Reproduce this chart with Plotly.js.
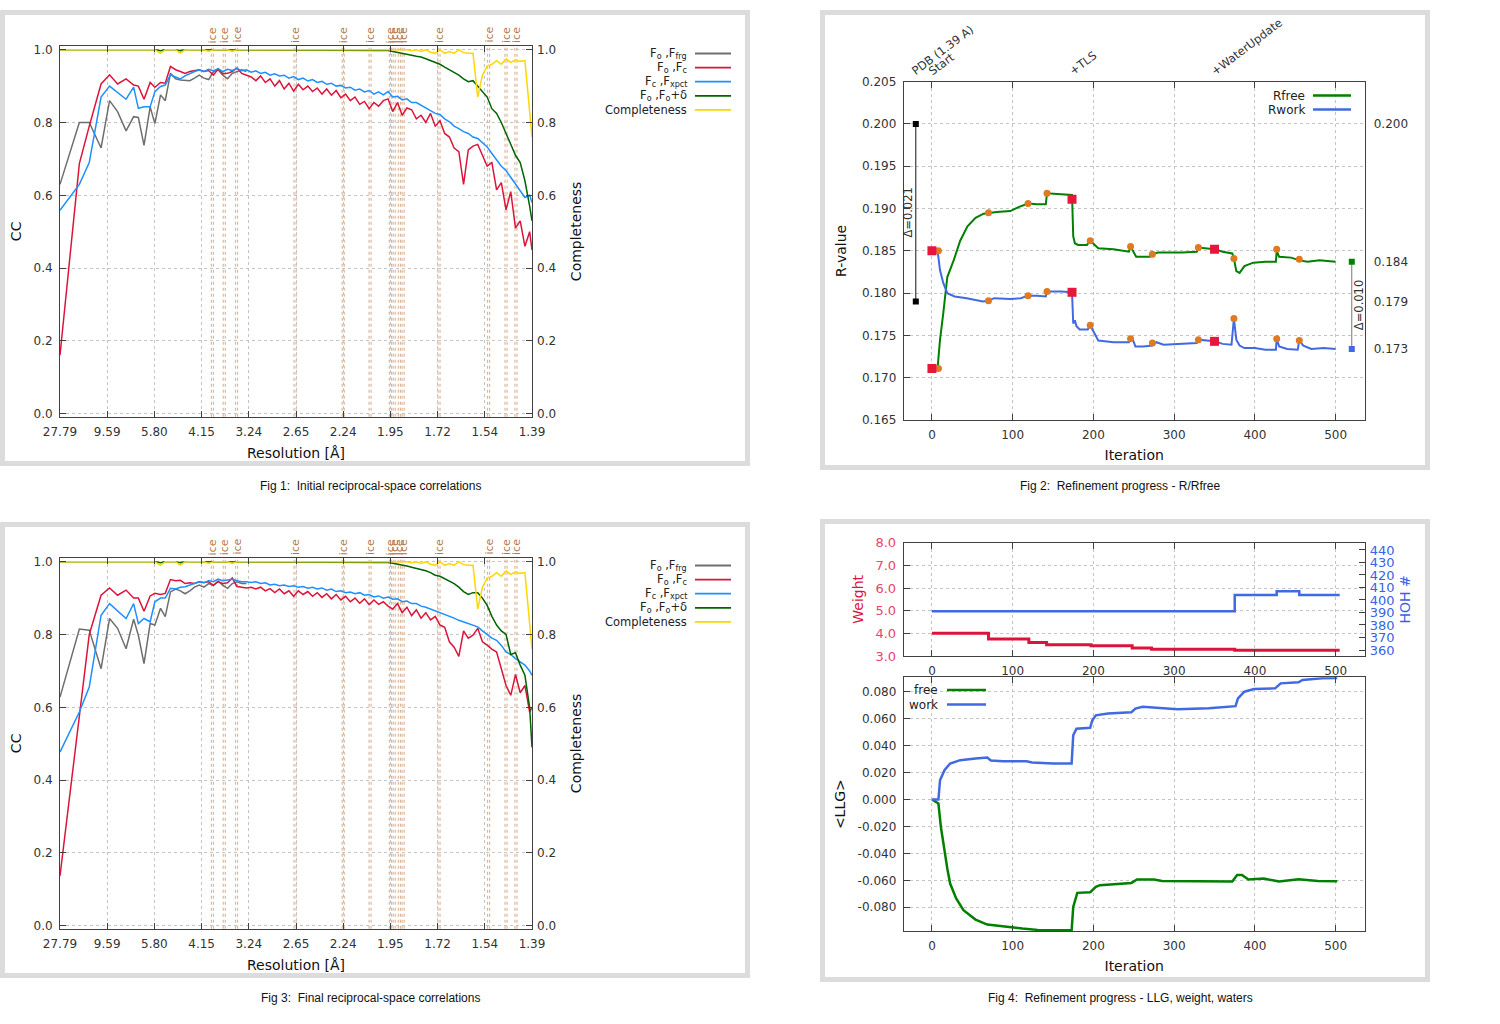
<!DOCTYPE html>
<html><head><meta charset="utf-8">
<script src="https://cdn.plot.ly/plotly-3.0.1.min.js"></script>
<style>html,body{margin:0;padding:0;background:#fff}#chart{width:1500px;height:1024px}</style>
</head><body><div id="chart"></div>
<script>
// ---------- Fig 1 / Fig 3 : reciprocal-space correlations ----------
const resTickVals = [0,1,2,3,4,5,6,7,8,9,10];
const resTickText = ['27.79','9.59','5.80','4.15','3.24','2.65','2.24','1.95','1.72','1.54','1.39'];
const ccTickVals = [0,0.2,0.4,0.6,0.8,1.0];
const ccTickText = ['0.0','0.2','0.4','0.6','0.8','1.0'];
const iceRings = [3.23,3.48,3.74,4.98,6.0,6.57,7.0,7.08,7.19,7.27,8.03,9.08,9.45,9.66];
const resX = [0,0.41,0.62,0.87,1.05,1.22,1.40,1.56,1.66,1.78,
1.91,2.01,2.13,2.23,2.34,2.45,2.55,2.65,2.75,2.85,
2.95,3.05,3.15,3.25,3.35,3.45,3.55,3.65,3.75,3.85,
3.95,4.05,4.15,4.25,4.35,4.45,4.55,4.65,4.75,4.85,
4.95,5.05,5.15,5.25,5.35,5.45,5.55,5.65,5.75,5.85,
5.95,6.05,6.15,6.25,6.35,6.45,6.55,6.65,6.75,6.85,
6.95,7.05,7.15,7.25,7.35,7.45,7.55,7.65,7.75,7.85,
7.95,8.05,8.15,8.25,8.35,8.45,8.55,8.65,8.75,8.85,
8.95,9.05,9.15,9.25,9.35,9.45,9.55,9.65,9.75,9.85,
9.95,10.0];
const ccLegend = ['F<sub>o</sub> ,F<sub>frg</sub>','F<sub>o</sub> ,F<sub>c</sub>','F<sub>c</sub> ,F<sub>xpct</sub>','F<sub>o</sub> ,F<sub>o</sub>+δ','Completeness'];

const initFoFfrg = [0.63,0.80,0.80,0.73,0.86,0.83,0.777,0.816,0.814,0.737,
0.843,0.797,0.876,0.86,0.935,0.92,0.917,0.915,0.915,0.922,
0.93,0.922,0.918,0.94,0.945,0.93,0.92,0.935,0.94,0.945,0.94];
const initFoFc = [0.161,0.687,0.79,0.906,0.931,0.906,0.92,0.903,0.90,0.864,
0.91,0.897,0.91,0.908,0.954,0.945,0.94,0.935,0.94,0.942,
0.945,0.94,0.943,0.93,0.947,0.934,0.935,0.94,0.95,0.935,
0.93,0.925,0.915,0.928,0.91,0.92,0.90,0.915,0.892,0.908,
0.886,0.905,0.89,0.90,0.885,0.895,0.878,0.892,0.875,0.888,
0.868,0.878,0.86,0.87,0.85,0.858,0.838,0.855,0.845,0.86,
0.865,0.83,0.855,0.82,0.84,0.835,0.81,0.82,0.80,0.825,
0.79,0.805,0.77,0.76,0.73,0.72,0.63,0.725,0.735,0.74,
0.71,0.68,0.69,0.615,0.635,0.56,0.61,0.51,0.53,0.46,
0.50,0.45];
const initFcFxpct = [0.559,0.63,0.69,0.87,0.90,0.882,0.864,0.897,0.839,0.843,
0.843,0.885,0.899,0.903,0.931,0.925,0.92,0.928,0.935,0.94,
0.944,0.94,0.946,0.942,0.948,0.94,0.946,0.943,0.948,0.942,
0.945,0.938,0.942,0.935,0.938,0.93,0.934,0.928,0.93,0.922,
0.926,0.918,0.922,0.914,0.918,0.91,0.913,0.905,0.908,0.90,
0.902,0.895,0.897,0.889,0.892,0.884,0.888,0.878,0.884,0.876,
0.885,0.87,0.872,0.862,0.865,0.855,0.855,0.848,0.84,0.834,
0.825,0.822,0.81,0.802,0.79,0.783,0.775,0.77,0.76,0.756,
0.745,0.733,0.715,0.696,0.68,0.668,0.65,0.631,0.615,0.594,
0.60,0.58];
const initFoFoDelta = [1,1,1,1,1,1,1,1,1,1,
1,1,0.997,1,1,1,0.997,1,1,1,
1,1,0.998,1,1,1,1,1,1,1,
1,1,1,1,1,1,1,1,1,1,
1,1,1,1,1,1,1,1,1,1,
1,1,1,1,0.999,1,0.999,1,0.999,0.999,
0.998,0.995,0.993,0.99,0.988,0.985,0.982,0.98,0.975,0.97,
0.965,0.96,0.952,0.945,0.937,0.93,0.92,0.912,0.915,0.90,
0.885,0.87,0.838,0.825,0.80,0.77,0.745,0.71,0.69,0.64,
0.57,0.53];
const completeness = [1,1,1,1,1,1,1,1,1,1,
1,1,0.99,1,1,1,0.99,1,1,1,
1,1,0.995,1,1,1,1,0.995,1,1,
1,1,1,1,1,1,1,1,1,1,
1,1,1,1,1,1,1,1,1,1,
1,1,1,1,1,1,1,1,1,1,
1,1,1,0.998,1,0.997,1,0.995,1,0.993,
0.99,1,0.99,0.995,0.99,1,0.992,0.99,0.99,0.87,
0.93,0.955,0.96,0.97,0.96,0.975,0.965,0.972,0.968,0.97,
0.84,0.76];

const finalFoFfrg = [0.628,0.815,0.812,0.706,0.844,0.817,0.761,0.842,0.798,0.72,
0.83,0.826,0.872,0.849,0.917,0.925,0.92,0.912,0.92,0.93,
0.936,0.93,0.94,0.935,0.947,0.935,0.927,0.94,0.945,0.94,0.94];
const finalFoFc = [0.137,0.587,0.80,0.908,0.928,0.908,0.922,0.90,0.90,0.864,
0.906,0.913,0.91,0.913,0.951,0.948,0.949,0.94,0.942,0.94,
0.945,0.943,0.945,0.935,0.945,0.94,0.942,0.955,0.932,0.93,
0.928,0.93,0.925,0.93,0.92,0.926,0.915,0.925,0.912,0.92,
0.905,0.92,0.91,0.918,0.905,0.915,0.902,0.912,0.898,0.91,
0.895,0.905,0.89,0.90,0.886,0.898,0.882,0.895,0.883,0.89,
0.878,0.87,0.885,0.86,0.875,0.852,0.868,0.845,0.86,0.84,
0.85,0.826,0.82,0.78,0.765,0.74,0.81,0.79,0.798,0.817,
0.78,0.771,0.76,0.752,0.706,0.66,0.633,0.69,0.64,0.66,
0.587,0.60];
const finalFcFxpct = [0.477,0.587,0.656,0.853,0.885,0.864,0.844,0.885,0.83,0.844,
0.835,0.89,0.90,0.90,0.927,0.925,0.93,0.931,0.935,0.94,
0.945,0.942,0.948,0.945,0.952,0.948,0.95,0.952,0.948,0.945,
0.945,0.943,0.945,0.94,0.942,0.936,0.938,0.934,0.936,0.932,
0.934,0.93,0.932,0.927,0.93,0.925,0.928,0.922,0.925,0.918,
0.92,0.915,0.917,0.912,0.915,0.908,0.91,0.903,0.906,0.90,
0.903,0.897,0.898,0.89,0.892,0.885,0.885,0.878,0.875,0.87,
0.866,0.862,0.855,0.85,0.845,0.839,0.835,0.83,0.825,0.821,
0.81,0.80,0.79,0.784,0.77,0.752,0.745,0.734,0.725,0.716,
0.70,0.688];
const finalFoFoDelta = [1,1,1,1,1,1,1,1,1,1,
1,1,0.997,1,1,1,0.997,1,1,1,
1,1,0.998,1,1,1,1,1,1,1,
1,1,1,1,1,1,1,1,1,1,
1,1,1,1,1,1,1,1,1,1,
1,1,1,1,0.999,1,0.999,1,0.999,0.999,
0.998,0.996,0.994,0.99,0.988,0.985,0.982,0.978,0.975,0.97,
0.963,0.96,0.953,0.945,0.94,0.93,0.918,0.91,0.915,0.915,
0.90,0.88,0.85,0.826,0.81,0.80,0.745,0.75,0.716,0.688,
0.60,0.49];

// ---------- Fig 2 : R / Rfree ----------
const iterTicks = [0,100,200,300,400,500];
const rTicks = [0.165,0.170,0.175,0.180,0.185,0.190,0.195,0.200,0.205];
const rfreeX = [7,10,14,19,27,35,44,54,64,70,80,97,108,119,130,141,142.5,160,173.5,175,177,181,192,196,200,206,225,244,246,248,253,270,273,280,310,328,330,350,360,372,374,377,381,387,398,413,426,427,430,445,454,465,480,500];
const rfreeY = [0.1712,0.1745,0.1776,0.1819,0.1839,0.1862,0.1879,0.1889,0.1894,0.1895,0.1896,0.1897,0.1902,0.1906,0.1905,0.1905,0.1918,0.1917,0.1916,0.1867,0.1859,0.1857,0.1857,0.1862,0.1858,0.1853,0.1852,0.1849,0.1855,0.1852,0.1843,0.1843,0.1846,0.1848,0.1848,0.1849,0.1854,0.1852,0.1849,0.1847,0.1841,0.1826,0.1824,0.1832,0.1836,0.1837,0.1837,0.1850,0.1843,0.1842,0.1839,0.1837,0.1839,0.1837];
const rworkX = [7,10,14,19,28,43,63,70,77,97,110,119,130,141,142.5,160,173.5,175,177,179,183,193,196,199,206,225,244,246,248,252,262,273,278,287,310,328,330,350,360,371,374,377,381,387,400,413,426,427,430,440,453,455,460,470,485,500];
const rworkY = [0.1850,0.1827,0.1812,0.1800,0.1796,0.1794,0.1790,0.1791,0.1794,0.1793,0.1794,0.1797,0.1797,0.1796,0.1802,0.1802,0.1801,0.1764,0.1768,0.1761,0.1757,0.1757,0.1762,0.1756,0.1744,0.1742,0.1742,0.1746,0.1747,0.1737,0.1737,0.1738,0.1742,0.1739,0.1740,0.1741,0.1745,0.1743,0.1740,0.1739,0.1770,0.1745,0.1738,0.1735,0.1735,0.1733,0.1733,0.1746,0.1737,0.1734,0.1733,0.1744,0.1738,0.1734,0.1735,0.1734];
const stepX = [8,70,119,142.5,196,246,273,330,374,427,455];
const stepRfree = [0.1711,0.1895,0.1906,0.1918,0.1862,0.1855,0.1846,0.1854,0.1841,0.1852,0.1840];
const stepRwork = [0.1850,0.1791,0.1797,0.1802,0.1762,0.1746,0.1741,0.1745,0.1770,0.1746,0.1744];
const stageX = [0,173.5,350];
const stageRfree = [0.1711,0.1911,0.1852];
const stageRwork = [0.1850,0.1801,0.1743];
const stageLabels = ['PDB (1.39 A)','Start','+TLS','+WaterUpdate'];
const stageLabelX = [-20,0,175,350];
const pdbX = -20, pdbRfree = 0.200, pdbRwork = 0.179;
const finalX = 520, finalRfree = 0.1837, finalRwork = 0.1734;

// ---------- Fig 4 : LLG, weight, waters ----------
const weightX = [0,70,120,142,197,248,272,375,505];
const weightY = [4.0,3.75,3.6,3.5,3.45,3.35,3.3,3.25,3.25];
const weightTicks = [3,4,5,6,7,8];
const hohX = [0,375,427,455,505];
const hohY = [391,404,407,404,404];
const hohTicks = [360,370,380,390,400,410,420,430,440];
const llgWorkX = [0,8,10,15.5,22.5,35,54,68.5,73,88,117,124,150,173,175,179,196,198.6,203,218,247,252,261,295,304,343,376,379,387,399,425,432,454,459,483,502];
const llgWork = [0,0,0.0143,0.0217,0.0267,0.0292,0.0304,0.0312,0.029,0.0284,0.0284,0.0274,0.0267,0.0267,0.0477,0.0526,0.0533,0.0588,0.0625,0.0638,0.0648,0.0675,0.0688,0.0678,0.067,0.0678,0.0693,0.075,0.080,0.082,0.0825,0.0862,0.087,0.0887,0.090,0.0902];
const llgFreeX = [0,8,11,15.5,19,22.5,30,39,54,68.5,93,112,131,173,175,180,196,203,208,237,247,254,275,285,324,372,378,384,392,411,430,454,478,502];
const llgFree = [0,-0.003,-0.0201,-0.0389,-0.0512,-0.0624,-0.0735,-0.0822,-0.0891,-0.0928,-0.0946,-0.0958,-0.0968,-0.0971,-0.0797,-0.0693,-0.0688,-0.0648,-0.0636,-0.0624,-0.0619,-0.0594,-0.0594,-0.0604,-0.0604,-0.0609,-0.056,-0.056,-0.0594,-0.0587,-0.0609,-0.0592,-0.0604,-0.0607];
const llgTickVals = [-0.08,-0.06,-0.04,-0.02,0,0.02,0.04,0.06,0.08];
const llgTickText = ['-0.080','-0.060','-0.040','-0.020','0.000','0.020','0.040','0.060','0.080'];

const captions = ['Fig 1:\u00a0\u00a0Initial reciprocal-space correlations','Fig 2:\u00a0\u00a0Refinement progress - R/Rfree','Fig 3:\u00a0\u00a0Final reciprocal-space correlations','Fig 4:\u00a0\u00a0Refinement progress - LLG, weight, waters'];

// ---------- styling ----------
const W = 1500, H = 1024;
const px = v => v / W, py = v => 1 - v / H;
const F = 'DejaVu Sans, Verdana, sans-serif';
const CAP = 'Liberation Sans Narrow, Liberation Sans, Arial, sans-serif';
const C = {gray:'#6e6e6e', red:'#dc143c', lblue:'#1e90ff', dgreen:'#006400', gold:'#ffd700',
  green:'#008000', blue:'#4169e1', orange:'#e07a22', sq:'#e8163c'};
const titleFont = {family:F, size:14, color:'#111'};
function ax(extra) {
  return Object.assign({showline:true, linecolor:'#404040', linewidth:1, ticks:'inside', ticklen:6,
    tickwidth:1, tickcolor:'#404040', tickfont:{family:F, size:12, color:'#333'}, zeroline:false,
    fixedrange:true, showgrid:true, gridcolor:'#c4c4c4', griddash:'dot', gridwidth:1,
    ticklabelstandoff:4}, extra);
}

const traces = [];
const shapes = [];
const annotations = [];

function ccPanel(xa, ya, ya2, ser, legendTop) {
  const cols = [C.gray, C.red, C.lblue, C.dgreen, C.gold];
  ser.forEach((s, i) => {
    traces.push({type:'scatter', mode:'lines', x:resX.slice(0, s.length), y:s, xaxis:xa,
      yaxis: i === 4 ? ya2 : ya, line:{color:cols[i], width:1.5}, hoverinfo:'skip', name:ccLegend[i]});
  });
  const yd = ya + ' domain';
  iceRings.forEach(r => {
    [-0.022, 0.022].forEach(o => shapes.push({type:'line', xref:xa, yref:yd, x0:r + o, x1:r + o, y0:0, y1:1,
      line:{color:'#dcb89a', width:1.2, dash:'dot'}, layer:'below'}));
    annotations.push({xref:xa, yref:yd, x:r, y:1, text:'ice', showarrow:false, textangle:-90,
      xanchor:'center', yanchor:'bottom', yshift:1, font:{family:F, size:11, color:'#b5784a'}});
  });
  ccLegend.forEach((t, i) => {
    const yy = legendTop + 14.1 * i;
    annotations.push({xref:'paper', yref:'paper', x:px(689), y:py(yy), text:t, showarrow:false,
      xanchor:'right', yanchor:'middle', font:{family:F, size:11.5, color:'#222'}});
    shapes.push({type:'line', xref:'paper', yref:'paper', x0:px(695), x1:px(731), y0:py(yy), y1:py(yy),
      line:{color:cols[i], width:1.8}});
  });
}
ccPanel('x', 'y', 'y2', [initFoFfrg, initFoFc, initFcFxpct, initFoFoDelta, completeness], 53.5);
ccPanel('x3', 'y5', 'y6', [finalFoFfrg, finalFoFc, finalFcFxpct, finalFoFoDelta, completeness], 565.5);

// Fig 2 traces
traces.push({type:'scatter', mode:'lines', x:rfreeX, y:rfreeY, xaxis:'x2', yaxis:'y3', line:{color:C.green, width:2}, name:'Rfree', hoverinfo:'skip'});
traces.push({type:'scatter', mode:'lines', x:rworkX, y:rworkY, xaxis:'x2', yaxis:'y3', line:{color:C.blue, width:2}, name:'Rwork', hoverinfo:'skip'});
traces.push({type:'scatter', mode:'markers', x:stepX, y:stepRfree, xaxis:'x2', yaxis:'y3', marker:{color:C.orange, size:7}, hoverinfo:'skip'});
traces.push({type:'scatter', mode:'markers', x:stepX, y:stepRwork, xaxis:'x2', yaxis:'y3', marker:{color:C.orange, size:7}, hoverinfo:'skip'});
traces.push({type:'scatter', mode:'markers', x:stageX.concat(stageX), y:stageRfree.concat(stageRwork), xaxis:'x2', yaxis:'y3', marker:{color:C.sq, size:9, symbol:'square'}, hoverinfo:'skip'});
traces.push({type:'scatter', mode:'lines+markers', x:[pdbX, pdbX], y:[pdbRfree, pdbRwork], xaxis:'x2', yaxis:'y3', line:{color:'#111', width:1}, marker:{color:'#000', size:6, symbol:'square'}, hoverinfo:'skip'});
// final values drawn on the overlaying right axis (same range) so that axis is rendered
traces.push({type:'scatter', mode:'lines+markers', x:[finalX, finalX], y:[finalRfree, finalRwork], xaxis:'x2', yaxis:'y4', line:{color:'#777', width:1}, marker:{color:[C.green, C.blue], size:6, symbol:'square'}, hoverinfo:'skip'});
stageLabels.forEach((t, i) => annotations.push({xref:'x2', yref:'y3 domain', x:stageLabelX[i], y:1, text:t, showarrow:false,
  textangle:-37, xanchor:'left', yanchor:'bottom', xshift:-9, yshift:1, font:{family:F, size:11.5, color:'#333'}}));
annotations.push({xref:'x2', yref:'y3', x:pdbX, y:(pdbRfree + pdbRwork) / 2, text:'Δ=' + (pdbRfree - pdbRwork).toFixed(3),
  showarrow:false, textangle:-90, xshift:-8, font:{family:F, size:11.5, color:'#333'}});
annotations.push({xref:'x2', yref:'y3', x:finalX, y:(finalRfree + finalRwork) / 2, text:'Δ=' + (finalRfree - finalRwork).toFixed(3),
  showarrow:false, textangle:-90, xshift:8, font:{family:F, size:11.5, color:'#333'}});
[['Rfree', C.green, 95.5], ['Rwork', C.blue, 109.5]].forEach(([t, c, yy]) => {
  annotations.push({xref:'paper', yref:'paper', x:px(1307), y:py(yy), text:t, showarrow:false, xanchor:'right', yanchor:'middle', font:{family:F, size:12, color:'#222'}});
  shapes.push({type:'line', xref:'paper', yref:'paper', x0:px(1313), x1:px(1351), y0:py(yy), y1:py(yy), line:{color:c, width:2.5}});
});

// Fig 4 traces
traces.push({type:'scatter', mode:'lines', x:weightX, y:weightY, xaxis:'x4', yaxis:'y7', line:{color:C.red, width:3, shape:'hv'}, name:'Weight', hoverinfo:'skip'});
traces.push({type:'scatter', mode:'lines', x:hohX, y:hohY, xaxis:'x4', yaxis:'y8', line:{color:C.blue, width:2.5, shape:'hv'}, name:'HOH #', hoverinfo:'skip'});
traces.push({type:'scatter', mode:'lines', x:llgFreeX, y:llgFree, xaxis:'x5', yaxis:'y9', line:{color:C.green, width:2.5}, name:'free', hoverinfo:'skip'});
traces.push({type:'scatter', mode:'lines', x:llgWorkX, y:llgWork, xaxis:'x5', yaxis:'y9', line:{color:C.blue, width:2.5}, name:'work', hoverinfo:'skip'});
[['free', C.green, 690], ['work', C.blue, 704.5]].forEach(([t, c, yy]) => {
  annotations.push({xref:'paper', yref:'paper', x:px(940), y:py(yy), text:t, showarrow:false, xanchor:'right', yanchor:'middle', font:{family:F, size:12, color:'#222'}});
  shapes.push({type:'line', xref:'paper', yref:'paper', x0:px(947), x1:px(986), y0:py(yy), y1:py(yy), line:{color:c, width:2.5}});
});

// panel frames
[[0,10,750,466],[820,10,1430,470],[0,522,750,978],[820,519,1430,982]].forEach(([a,b,c,d]) =>
  shapes.push({type:'rect', xref:'paper', yref:'paper', x0:px(a + 2.5), x1:px(c - 2.5), y0:py(d - 2.5), y1:py(b + 2.5),
    line:{color:'#dcdcdc', width:5}, fillcolor:'rgba(0,0,0,0)', layer:'below'}));
// captions
[[370,486],[1120,486],[370,998],[1120,998]].forEach(([x, y], i) =>
  annotations.push({xref:'paper', yref:'paper', x:px(x), y:py(y), text:captions[i], showarrow:false,
    xanchor:'center', yanchor:'middle', font:{family:CAP, size:12, color:'#111'}}));

const resRange = [0, 10];
const ccRange = [-0.0082, 1.0102];
const itRange = [-35, 536];
const layout = {
  width:W, height:H, margin:{l:0, r:0, t:0, b:0}, paper_bgcolor:'#fff', plot_bgcolor:'#fff', showlegend:false,
  font:{family:F, size:12, color:'#333'},
  // Fig 1
  xaxis: ax({domain:[px(60), px(532)], anchor:'y', range:resRange, tickmode:'array', tickvals:resTickVals, ticktext:resTickText, mirror:'ticks',
    title:{text:'Resolution [Å]', font:titleFont, standoff:10}}),
  yaxis: ax({domain:[py(416.7), py(46)], anchor:'x', range:ccRange, tickmode:'array', tickvals:ccTickVals, ticktext:ccTickText, mirror:true,
    title:{text:'CC', font:titleFont, standoff:8}}),
  yaxis2: ax({overlaying:'y', side:'right', anchor:'x', range:ccRange, tickmode:'array', tickvals:ccTickVals, ticktext:ccTickText, showgrid:false, showline:false,
    title:{text:'Completeness', font:titleFont, standoff:16}}),
  // Fig 2
  xaxis2: ax({domain:[px(903.7), px(1364.7)], anchor:'y3', range:itRange, tickmode:'array', tickvals:iterTicks, mirror:'ticks',
    title:{text:'Iteration', font:titleFont, standoff:8}}),
  yaxis3: ax({domain:[py(420), py(81.7)], anchor:'x2', range:[0.165, 0.205], tickmode:'array', tickvals:rTicks, tickformat:'.3f', mirror:true,
    title:{text:'R-value', font:titleFont, standoff:12}}),
  yaxis4: ax({overlaying:'y3', side:'right', anchor:'x2', range:[0.165, 0.205], tickmode:'array',
    tickvals:[pdbRfree, finalRfree, pdbRwork, finalRwork], ticktext:[pdbRfree, finalRfree, pdbRwork, finalRwork].map(v => v.toFixed(3)),
    ticklen:0, showgrid:false, showline:false, ticklabelstandoff:8}),
  // Fig 3
  xaxis3: ax({domain:[px(60), px(532)], anchor:'y5', range:resRange, tickmode:'array', tickvals:resTickVals, ticktext:resTickText, mirror:'ticks',
    title:{text:'Resolution [Å]', font:titleFont, standoff:10}}),
  yaxis5: ax({domain:[py(928.7), py(558)], anchor:'x3', range:ccRange, tickmode:'array', tickvals:ccTickVals, ticktext:ccTickText, mirror:true,
    title:{text:'CC', font:titleFont, standoff:8}}),
  yaxis6: ax({overlaying:'y5', side:'right', anchor:'x3', range:ccRange, tickmode:'array', tickvals:ccTickVals, ticktext:ccTickText, showgrid:false, showline:false,
    title:{text:'Completeness', font:titleFont, standoff:16}}),
  // Fig 4 top
  xaxis4: ax({domain:[px(903.7), px(1364.7)], anchor:'y7', range:itRange, tickmode:'array', tickvals:iterTicks, mirror:'ticks'}),
  yaxis7: ax({domain:[py(656), py(542.7)], anchor:'x4', range:[3, 8], tickmode:'array', tickvals:weightTicks, tickformat:'.1f', mirror:true,
    tickfont:{family:F, size:13, color:'#e8456a'}, title:{text:'Weight', font:{family:F, size:14, color:C.red}, standoff:8}}),
  yaxis8: ax({overlaying:'y7', side:'right', anchor:'x4', range:[355.2, 445.8], tickmode:'array', tickvals:hohTicks, showgrid:false, showline:false,
    tickfont:{family:F, size:13, color:'#3a62e6'}, title:{text:'HOH #', font:{family:F, size:14, color:'#3a62e6'}, standoff:6}}),
  // Fig 4 bottom
  xaxis5: ax({domain:[px(903.7), px(1364.7)], anchor:'y9', range:itRange, tickmode:'array', tickvals:iterTicks, mirror:'ticks',
    title:{text:'Iteration', font:titleFont, standoff:8}}),
  yaxis9: ax({domain:[py(931), py(677.3)], anchor:'x5', range:[-0.0976, 0.0907], tickmode:'array', tickvals:llgTickVals, ticktext:llgTickText, mirror:true,
    title:{text:'&lt;LLG&gt;', font:titleFont, standoff:8}}),
  shapes:shapes, annotations:annotations
};
Plotly.newPlot('chart', traces, layout, {staticPlot:true, displayModeBar:false});
</script></body></html>
